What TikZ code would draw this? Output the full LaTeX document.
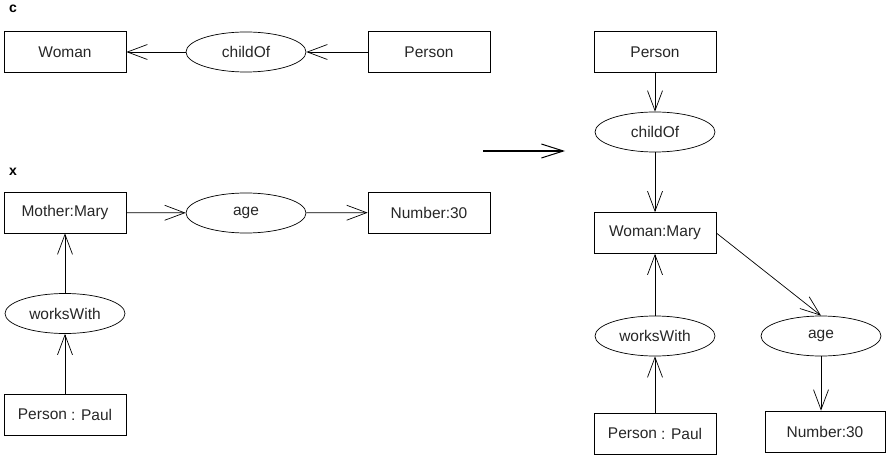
\documentclass[tikz,border=0pt]{standalone}
\usepackage{fontspec}
\setmainfont{Liberation Sans}
\usetikzlibrary{shapes.geometric,arrows.meta}
\begin{document}
\begin{tikzpicture}[x=1pt,y=-1pt,
  every node/.style={font=\fontsize{15.5}{18}\selectfont,text=black!85},
  box/.style={draw,line width=0.7pt,rectangle,minimum width=122pt,minimum height=41pt,inner sep=0pt},
  rel/.style={draw,line width=0.7pt,ellipse,minimum width=120pt,minimum height=40pt,inner sep=0pt},
  conn/.style={line width=0.7pt,-{Straight Barb[length=20pt,width=15pt,line width=0.7pt]}},
  biga/.style={line width=1.8pt,-{Straight Barb[length=22pt,width=14pt,line width=1pt]}},
  lbl/.style={font=\fontsize{14}{16}\selectfont\bfseries,text=black}]
\useasboundingbox (0,0) rectangle (886,457);
% labels
\node[lbl] (lc) at (13,9) {c};
\node[lbl] (lx) at (13,172) {x};
% left top
\node[box] (woman) at (65,52) {Woman};
\node[rel] (child1) at (246,52) {childOf};
\node[box] (person1) at (429,52) {Person};
\draw[conn] (child1) -- (woman);
\draw[conn] (person1) -- (child1);
% left bottom
\node[box] (mother) at (65,212.5) {Mother:Mary};
\node[rel] (age1) at (246,213) {age};
\node[box] (num1) at (429,212.5) {Number:30};
\node[rel] (works1) at (65,313.5) {worksWith};
\node[box] (paul1) at (65,414.5) {Person\hspace{4pt}\raisebox{-1.5pt}{: Paul}};
\draw[conn] (mother) -- (age1);
\draw[conn] (age1) -- (num1);
\draw[conn] (works1) -- (mother);
\draw[conn] (paul1) -- (works1);
% big arrow
\coordinate (bs) at (483,151);
\coordinate (be) at (565,151);
\draw[biga] (bs) -- (be);
% right
\node[box] (person2) at (655,52) {Person};
\node[rel] (child2) at (655,132) {childOf};
\node[box] (wm) at (655,233) {Woman:Mary};
\node[rel] (works2) at (655,336) {worksWith};
\node[rel] (age2) at (821,336) {age};
\node[box] (paul2) at (655,433.5) {Person\hspace{4pt}\raisebox{-1.5pt}{: Paul}};
\node[box,minimum width=120pt] (num2) at (825,431.5) {Number:30};
\draw[conn] (person2) -- (child2);
\draw[conn] (child2) -- (wm);
\draw[conn] (works2) -- (wm);
\draw[conn] (paul2) -- (works2);
\draw[conn] (wm.east) -- (age2.north);
\draw[conn] (age2.south) -- (age2.south |- num2.north);
\end{tikzpicture}
\end{document}
